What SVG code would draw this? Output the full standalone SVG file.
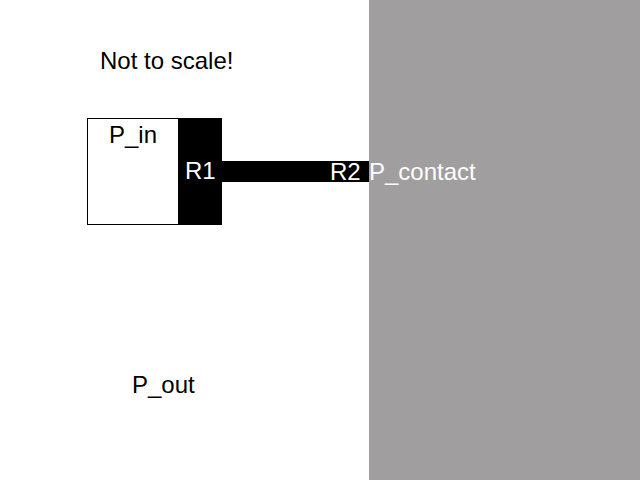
<svg xmlns="http://www.w3.org/2000/svg" width="640" height="480" viewBox="0 0 640 480">
<style>text{font-family:"Liberation Sans",Arial,sans-serif;font-size:24px;fill:#000}.w{fill:#fff}</style>
<rect width="640" height="480" fill="#fff"/>
<rect id="contact" x="369" y="0" width="271" height="480" fill="#a09e9f"/>
<rect id="p_in" x="87.500" y="118.500" width="91" height="106" fill="#fff" stroke="#000" stroke-width="1"/>
<rect id="r1" x="178" y="118" width="44" height="107" fill="#000"/>
<rect id="r2" x="222" y="161" width="147" height="21" fill="#000"/>
<text x="100" y="69">Not to scale!</text>
<text x="109" y="143">P_in</text>
<text class="w" x="185" y="179">R1</text>
<text class="w" x="330" y="180">R2</text>
<text class="w" x="369" y="180">P_contact</text>
<text x="132" y="393">P_out</text>
</svg>
